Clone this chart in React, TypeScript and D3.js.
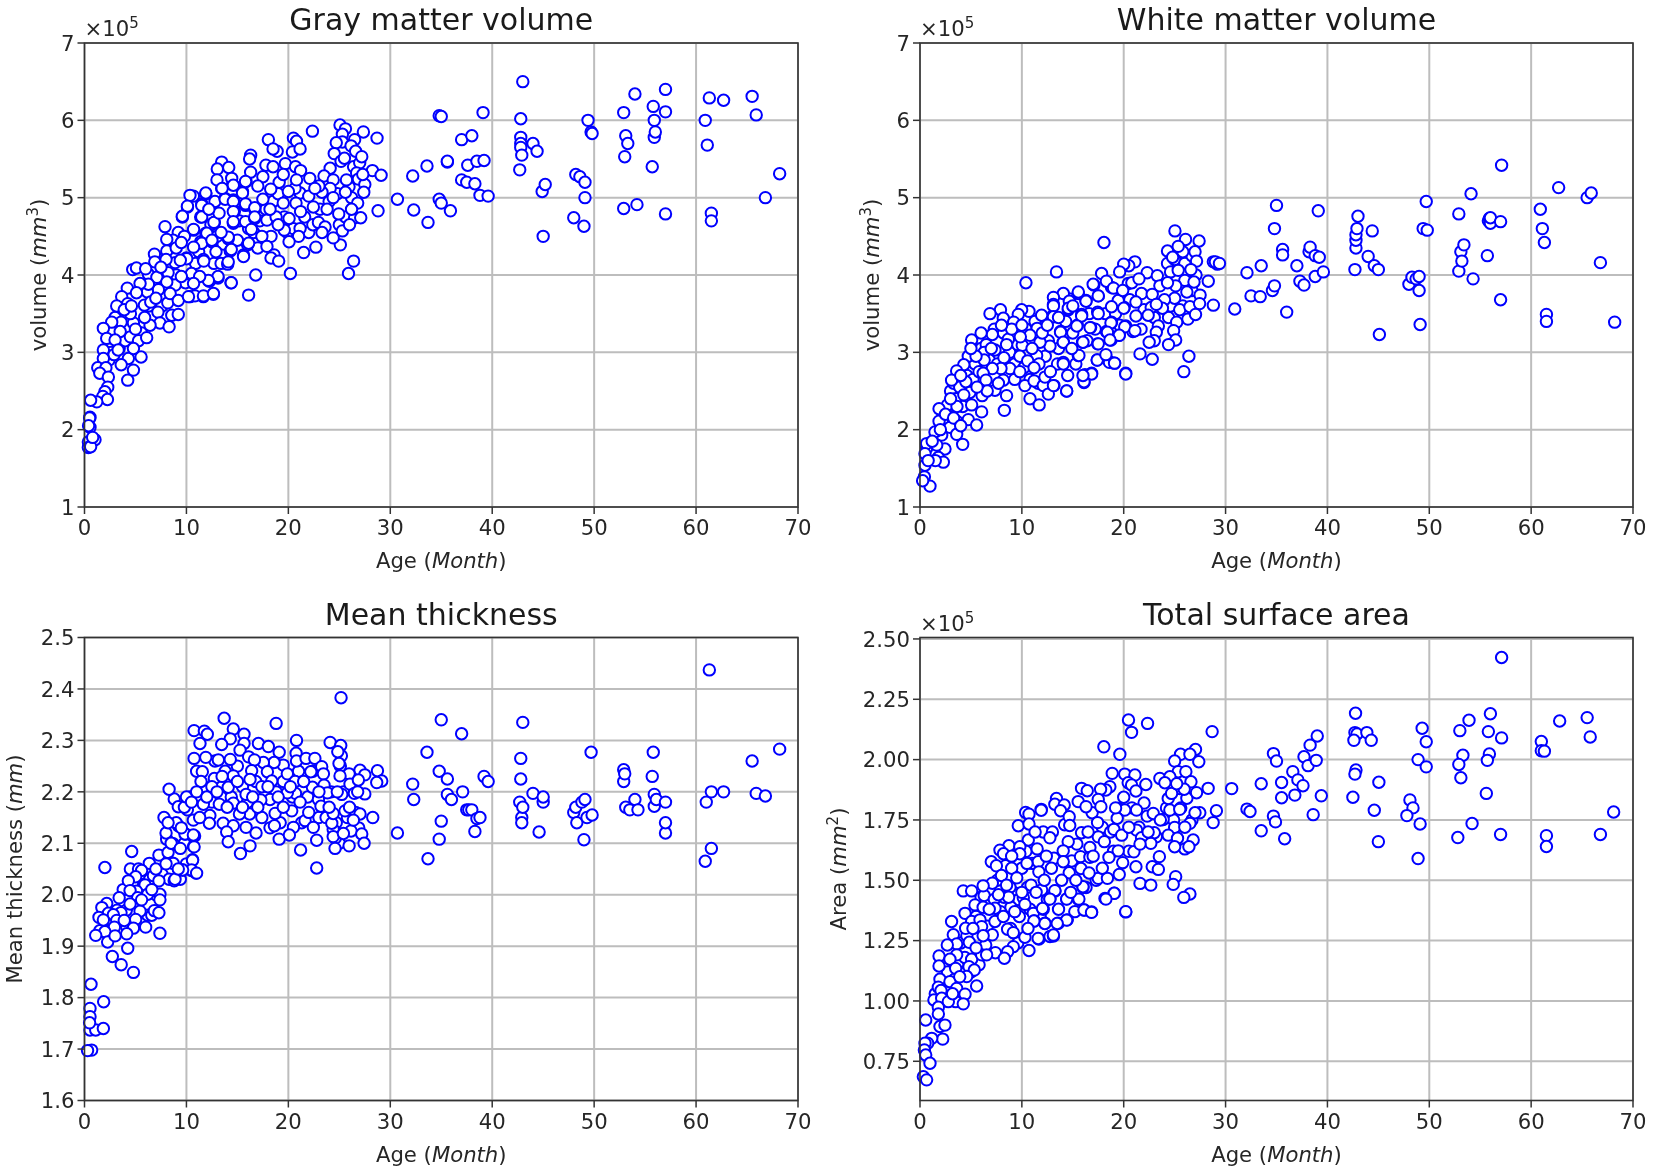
import React from "react";
import * as d3 from "d3";

const ageTicks = [0, 10, 20, 30, 40, 50, 60, 70];
const volumeTicks = [1, 2, 3, 4, 5, 6, 7];
const thicknessTicks = [1.6, 1.7, 1.8, 1.9, 2.0, 2.1, 2.2, 2.3, 2.4, 2.5];
const areaTicks = [0.75, 1.0, 1.25, 1.5, 1.75, 2.0, 2.25, 2.5];

const grayMore: number[][] = [
[3,3.45],[3.4,3.05],[2.6,3],[2.4,2.9],[4,3.15],[4.5,3.2],[5.6,3.25],[6.3,3.6],[6.7,3.85],[7.6,3.6],[7.7,3.95],[8.5,3.95],[9,4],[9.9,3.9],[10.9,4.15],[11.2,4.3],[12.7,4.15],[13.4,4.15],[13.6,4.4],[12.4,4.65],[13,4.5],[15,4.45],[15.2,4.7],[15.3,4.95],[16.1,4.6],[16.6,4.55],[17,4.35],[17.2,4.7],[17.8,4.85],[18.5,4.95],[19,5.05],[19.6,4.75],[19.9,4.55],[20.5,4.6],[21.6,4.75],[22,4.55],[22.4,4.65],[23.1,4.85],[24,4.95],[24.8,5.05],[25,4.65],[25.6,4.75],[26.2,5],[26.4,5.4],
];

const grayPoints: number[][] = [
[25.07,5.94],[25.6,5.89],[22.36,5.86],[27.36,5.85],[28.7,5.77],[18.04,5.75],[20.5,5.77],[20.8,5.73],[25.3,5.82],[25.3,5.72],[24.7,5.71],[26.5,5.75],[26.15,5.67],[26.6,5.6],[18.9,5.6],[18.5,5.63],[20.4,5.59],[21.15,5.63],[24.5,5.57],[16.3,5.55],[16.2,5.5],[13.46,5.46],[14.15,5.39],[13.03,5.37],[17.8,5.42],[19.7,5.44],[20.7,5.4],[21.2,5.35],[25.17,5.47],[25.5,5.51],[27,5.45],[27.2,5.53],[24.1,5.38],[23.5,5.28],[28.25,5.35],[29.1,5.29],[26.7,5.32],[26.87,5.24],[27.5,5.17],[27.4,5.07],[25.95,5.14],[25.7,5.23],[24.4,5.23],[24.1,5.12],[23.3,5.07],[22.1,5.25],[24.4,5],[25.6,5.07],[26.8,4.93],[23.8,4.85],[22.45,4.88],[21.15,5.06],[20.65,5.12],[20.8,5.23],[19.1,5.2],[18.27,5.11],[17.5,5.27],[15.85,5.21],[16.3,5.33],[14.54,5.17],[14.44,5.25],[13.46,5.12],[13,5.23],[15.5,5.08],[14.6,4.97],[15.8,4.9],[17.5,4.98],[16.7,4.85],[19.5,4.93],[20.75,4.93],[21.2,4.82],[20,5.08],[11.9,5.05],[10.68,5.02],[10.35,5.03],[11.5,4.92],[10.1,4.88],[12.8,4.95],[13.8,4.99],[14.7,4.82],[11.4,4.75],[12.74,4.68],[14.6,4.67],[15.8,4.69],[16.7,4.73],[17.9,4.71],[18.8,4.75],[20.07,4.73],[19.6,4.58],[21.15,4.6],[21,4.5],[20.07,4.43],[18.3,4.5],[17.4,4.5],[16.37,4.59],[14.1,4.47],[12.5,4.43],[11.4,4.43],[10.7,4.58],[11.9,4.54],[9.6,4.75],[16,4.39],[17.9,4.37],[15.6,4.26],[14.3,4.31],[11.66,4.2],[10,4.22],[14.05,4.14],[13.1,3.96],[12.25,3.92],[10.5,4],[16.8,4],[14.37,3.9],[20.2,4.02],[21.5,4.29],[22.7,4.36],[18.6,4.26],[18.3,4.22],[19.05,4.18],[26.4,4.18],[25.9,4.02],[25.1,4.39],[24.4,4.48],[25.3,4.57],[22.95,4.68],[23.6,4.62],[23.3,4.55],[24.94,4.79],[26.5,4.74],[27.1,4.74],[28.8,4.83],[16.1,3.74],[12.64,3.75],[11.66,3.72],[10.35,3.72],[10.84,3.73],
[7.9,4.625],[4.73,4.07],[5.1,4.09],[9.2,4.55],[8.7,4.45],[8.07,4.46],[8.07,4.31],[6.86,4.27],[6.9,4.17],[8.9,4.16],[8.2,4.03],[6.27,4.01],[7.1,3.97],[10.5,4.02],[8.9,3.87],[8.07,3.91],[7.25,3.81],[6.17,3.78],[6.27,3.88],[5.45,3.89],[4.2,3.83],[5.1,3.77],[3.65,3.72],[3.16,3.6],[4.24,3.63],[5.88,3.61],[8.17,3.64],[8.4,3.76],[9.2,3.67],[10.2,3.72],[11.67,3.73],[12.65,3.76],[14.4,3.9],[7.2,3.52],[8.56,3.48],[9.2,3.49],[7.4,3.38],[8.3,3.33],[6.43,3.35],[4.8,3.38],[3.59,3.39],[2.67,3.39],[1.85,3.31],[3.5,3.27],[5.3,3.15],[6.1,3.19],[2.18,3.18],[3,3.16],[1.85,3.03],[2.9,2.97],[1.85,2.92],[4.3,2.92],[5.55,2.94],[3.3,3.03],[4.8,3.05],[3.6,2.84],[1.3,2.8],[2.1,2.8],[1.5,2.73],[2.34,2.68],[4.8,2.77],[4.24,2.64],[2.28,2.55],[2,2.49],[1.8,2.43],[2.25,2.39],[1.2,2.36],[0.6,2.38],[0.54,2.16],[0.54,2.03],[1.03,1.87],[0.38,1.84],[0.38,1.77],[0.5,2.15],[0.4,2.05],[0.6,1.78],[0.8,1.9],
[10.1,4.89],[9.6,4.76],[10.7,4.59],[11.5,4.75],[11.5,4.9],[12.7,4.68],[13.8,4.98],[14.6,4.95],[14.6,5.16],[13.5,5.12],[11.9,5.06],[15.8,5.21],[15.5,5.06],[15.8,4.92],[16.7,4.87],[16.7,4.75],[14.6,4.82],[14.6,4.69],[12,4.54],[14.1,4.49],[11.5,4.41],[12.5,4.45],[10.7,4.36],[10.03,4.21],[11.7,4.18],[14.4,4.33],[15.6,4.24],[16.1,4.41],[14.1,4.17],[13.1,3.98],[12.15,3.93],[11.3,3.98],[9.4,4.19],[9.5,3.98],[10.7,3.89],
[9.8,4.5],[9,4.35],[8,4.2],[7.5,4.1],[6.5,3.65],[7,3.7],[5.9,3.45],[4.5,3.5],[5,3.3],[3.9,3.55],[4.6,3.6],[6,4.08],[9.5,4.42],[12.9,4.3],[13.4,4.55],[13.2,4.8],[12.2,4.85],[18.2,4.85],[19,4.65],[22,5.02],[23,5.15],[26,4.65],[26.2,4.85],[27.3,5.3],[22.6,5.12],[19.5,5.3],[17,5.15],[18.5,5.4],
[30.7,4.98],[32.2,5.28],[32.3,4.84],[33.6,5.41],[33.7,4.68],[34.8,6.06],[35,6.05],[34.8,4.98],[35,4.93],[35.6,5.46],[35.6,5.47],[35.9,4.83],[37,5.75],[37,5.23],[37.5,5.2],[37.6,5.42],[38,5.8],[38.3,5.18],[38.5,5.47],[38.8,5.03],[39.2,5.48],[39.1,6.1],[39.6,5.02],[42.7,5.36],[42.8,6.02],[42.8,5.78],[42.8,5.7],[42.8,5.65],[42.9,5.55],[43,6.5],[44,5.7],[44.4,5.6],[44.9,5.08],[45,4.5],[45.2,5.17],[48,4.74],[48.2,5.3],[48.6,5.27],[49.1,5.2],[49,4.63],[49.1,5],[49.4,6],[49.7,5.85],[49.8,5.83],[52.9,4.86],[52.9,6.1],[53,5.53],[53.1,5.8],[53.3,5.7],[54,6.34],[54.2,4.91],[55.7,5.4],[55.8,6.18],[55.9,5.78],[55.9,6],[56,5.85],[57,6.4],[57,6.11],[57,4.79],[60.9,6],[61.1,5.68],[61.3,6.29],[61.5,4.8],[61.5,4.7],[62.7,6.26],[65.5,6.31],[65.9,6.07],[66.8,5],[68.2,5.31],
];

const whiteMore: number[][] = [
[2.2,2.1],[2.6,2.25],[3,2.5],[3.3,2.6],[3.9,2.55],[4.2,2.3],[4.6,2.7],[5.2,2.65],[5.4,2.85],[5.8,2.75],[6,3.05],[6.5,3.1],[6.8,2.9],[7.3,3.3],[7.6,2.85],[8.2,3.25],[8.8,3],[9.3,2.85],[9.6,3.1],[10.2,2.8],[10.4,3.3],[10.8,2.65],[11.3,3.4],[11.6,2.6],[12.3,2.95],[12.6,3.15],[13.5,2.85],[13.6,3.05],[14.3,3.4],[14.5,2.7],[15,3.25],[15.3,2.85],[16.4,3.15],[16.6,3.5],[17.2,3.3],[18.2,3.5],[19.2,3.5],[19.6,3.35],[21.7,3.3],[22,3.55],[23,3.45],[24.4,3.45],[24.6,3.6],[25.8,3.6],[26.7,3.8],[27.1,4],[24.3,4.15],[25,4.2],[26,4.15],[26.7,4.25],[25.8,4.3],
];

const whitePoints: number[][] = [
[10.4,3.9],[17.07,3.87],[18.8,3.84],[20.45,3.89],[15.54,3.76],[17.5,3.73],[14.66,3.69],[14.07,3.76],[13.1,3.71],[13.1,3.62],[16.3,3.67],[19.46,3.65],[20.6,3.68],[20.05,3.58],[14.56,3.55],[15.87,3.49],[17.44,3.52],[18.8,3.39],[20.2,3.34],[20.9,3.27],[18.3,3.27],[16.75,3.32],[15.44,3.35],[13.02,3.47],[11.94,3.48],[10.7,3.53],[9.98,3.55],[9.65,3.49],[7.9,3.55],[6.87,3.5],[8.18,3.44],[9.2,3.39],[11.5,3.31],[13.8,3.27],[14.07,3.13],[15.96,3.13],[17.44,3.11],[19.56,3.22],[18.75,3.16],[10.04,3.09],[10.8,3.22],[9.85,3.2],[8.67,3.17],[7.1,3.23],[5.07,3.16],[6.3,3],[7.36,3.03],[12.76,3.08],[11.78,3.13],[9.8,2.95],[8.24,2.93],[4.74,2.95],[4.3,2.84],[6.3,2.9],[11.45,2.96],[10.57,2.89],[11.68,2.85],[8.83,2.79],[7.95,2.79],[7.1,2.79],[6.2,2.73],[3.6,2.76],[4.5,2.62],[3.1,2.64],[8.18,2.64],[6.48,2.64],[10.3,2.57],[11.2,2.63],[12.1,2.57],[13.15,2.57],[12.27,2.68],[14.07,2.87],[15.54,2.96],[17.4,2.9],[18.6,2.88],[19.1,2.86],[16.85,2.73],[16.2,2.71],[16.1,2.61],[20.2,2.73],[14.4,2.5],[12.6,2.46],[10.8,2.4],[11.7,2.32],[8.5,2.44],[7.36,2.51],[4.9,2.48],[6.1,2.44],[3.5,2.4],[5.07,2.32],[2.7,2.32],[1.87,2.27],[3.63,2.3],[6.05,2.23],[8.28,2.25],[4.74,2.13],[3.6,2.11],[1.87,2.11],[5.56,2.06],[2.94,2.03],[2.13,1.93],[3.6,1.94],[1.47,1.97],[4.19,1.81],[2.45,1.75],[0.65,1.76],[0.65,1.82],[1.8,1.64],[2.29,1.58],[0.49,1.54],[0.43,1.39],[0.98,1.27],[0.26,1.34],[0.49,1.69],[1.64,1.8],
[25.03,4.57],[26.07,4.46],[27.4,4.44],[24.3,4.31],[25.35,4.37],[27,4.3],[24.8,4.23],[27.15,4.18],[24.6,4.04],[25.35,4.06],[26.6,4.07],[18.06,4.42],[13.4,4.04],[21.1,4.17],[20.5,4.12],[20,4.14],[17.83,4.02],[19.6,4.04],[22.3,4.03],[23.3,3.99],[28.8,4.17],[29.2,4.14],[28.3,3.92],[26,3.93],[26.9,3.91],[25.1,3.86],[20.8,3.9],[18.3,3.92],[17,3.88],[19,3.83],[23.55,3.86],[21.75,3.76],[26.2,3.78],[27.5,3.74],[25,3.7],[17.5,3.73],[15.54,3.78],[16.3,3.66],[14.66,3.66],[13.1,3.6],[21.2,3.65],[19.46,3.67],[24,3.68],[22.7,3.58],[23.8,3.57],[25.5,3.55],[26.5,3.59],[27.45,3.63],[28.8,3.61],[20,3.57],[18.8,3.59],[14.56,3.57],[17.5,3.5],[15.87,3.47],[13.1,3.46],[21.2,3.47],[22.4,3.48],[26.3,3.43],[25.2,3.39],[27.05,3.49],[23.4,3.34],[20.1,3.33],[18.75,3.38],[16.7,3.32],[15.4,3.34],[13.8,3.26],[18.4,3.26],[21.1,3.28],[19.56,3.22],[23.2,3.26],[24.9,3.28],[25.1,3.16],[23,3.15],[24.4,3.1],[17.5,3.11],[16,3.13],[14.07,3.13],[18.65,3.16],[22.5,3.13],[21.6,2.98],[22.8,2.91],[26.4,2.95],[25.9,2.75],[20.2,2.72],[17.4,2.9],[15.6,2.96],[14.07,2.85],[18.6,2.87],[19.1,2.86],[18.25,2.97],[16.85,2.72],[16.1,2.62],[16,2.7],[14.4,2.5],[13.1,2.57],
[9,3.3],[8,3.35],[6,3.25],[5.5,2.95],[5,3.05],[4,2.7],[7,3.05],[8.5,3.1],[10,3.35],[11,3.05],[12,3.25],[12.5,3.35],[11.2,2.8],[12.8,2.75],[9.3,2.65],[9.8,2.75],[7.7,2.6],[6.6,2.5],[5.6,2.55],[4.3,2.45],[2.5,2.2],[3,2.4],[2,2],[1.2,1.85],[1.5,1.6],[0.8,1.6],[3.3,2.15],[4,2.05],[14.9,3.05],[15,3.6],[13.6,3.45],[22.8,3.75],[23.2,3.62],[24.3,3.9],[19.9,3.8],[21.5,3.95],
[29,4.17],[29.4,4.15],[30.9,3.56],[32.1,4.03],[32.5,3.73],[33.4,3.72],[33.5,4.12],[34.6,3.8],[34.8,3.86],[34.8,4.6],[35,4.9],[35.6,4.33],[35.6,4.26],[36,3.52],[37,4.12],[37.3,3.92],[37.7,3.87],[38.2,4.3],[38.3,4.36],[38.8,4.25],[38.8,3.98],[39.2,4.23],[39.1,4.83],[39.6,4.04],[42.7,4.07],[42.8,4.35],[42.8,4.45],[42.8,4.52],[42.9,4.6],[43,4.76],[44,4.24],[44.4,4.57],[44.6,4.12],[45,4.07],[45.1,3.23],[48,3.88],[48.3,3.97],[48.7,3.95],[49,3.8],[49.1,3.36],[49,3.98],[49.4,4.6],[49.7,4.95],[49.8,4.58],[52.9,4.05],[52.9,4.79],[53.1,4.3],[53.2,4.18],[53.4,4.39],[54.1,5.05],[54.3,3.95],[55.7,4.25],[55.8,4.7],[55.9,4.73],[56,4.67],[56,4.74],[57,3.68],[57,4.69],[57.1,5.42],[60.9,4.85],[61.1,4.6],[61.3,4.42],[61.5,3.49],[61.5,3.4],[62.7,5.13],[65.5,5],[65.9,5.06],[66.8,4.16],[68.2,3.39],
];

const thicknessMore: number[][] = [
[1.5,1.93],[2.4,1.93],[3.2,1.97],[3.6,1.93],[3.8,2.01],[4.1,1.97],[4.5,2.05],[5.3,2.05],[5.8,2.02],[6.2,1.96],[6.4,2.03],[6.6,1.96],[7,2],[7.6,2.04],[8.3,2.03],[9.4,2.03],[9.8,2.1],[10,2.06],[11,2.24],[11.7,2.21],[12.5,2.18],[12.8,2.26],[13.4,2.19],[13.8,2.24],[14.4,2.19],[15,2.25],[15.5,2.21],[16,2.18],[16.8,2.22],[17.7,2.2],[18.2,2.13],[18.8,2.2],[19.2,2.14],[19.5,2.22],[20.4,2.19],[21,2.24],[21.3,2.14],[21.9,2.19],[22.4,2.24],[23,2.15],[23.7,2.15],[24.2,2.2],[24.7,2.14],[25.4,2.2],[25.8,2.15],[26.6,2.16],[26.9,2.13],[25,2.1],[24.6,2.11],[25.1,2.25],[25.2,2.27],
];

const thicknessPoints: number[][] = [
[4.63,2.084],[2,2.053],[6.36,2.061],[7.3,2.077],[8.2,2.082],[8.7,2.099],[8.06,2.108],[9.9,2.118],[10.8,2.114],[10.7,2.094],[10.6,2.068],[8.55,2.062],[10.5,2.047],[10.94,2.042],[9.64,2.048],[8.8,2.027],[5.6,2.047],[5.02,2.035],[4.3,2.027],[6.76,2.037],[7.3,2.027],[5.94,2.019],[5.1,2.007],[4.47,2.008],[7.4,2.001],[6.2,2.001],[5.22,1.994],[7.4,1.99],[3.4,1.994],[4.47,1.982],[3.58,1.965],[5.45,1.968],[6.85,1.969],[7.3,1.965],[2.18,1.983],[1.7,1.975],[2.34,1.964],[2.83,1.961],[1.42,1.956],[1.85,1.951],[3.16,1.95],[5.02,1.952],[4.14,1.938],[4.8,1.935],[6,1.937],[7.4,1.925],[2.93,1.937],[2,1.928],[1.1,1.921],[4.14,1.924],[2.27,1.908],[4.24,1.896],[2.73,1.88],[3.6,1.864],[4.8,1.849],[0.64,1.826],[1.88,1.792],[0.54,1.779],[0.54,1.763],[0.54,1.737],[1.1,1.737],[1.85,1.74],[0.7,1.698],[0.3,1.697],[0.5,1.751],
[13.7,2.343],[18.8,2.333],[10.75,2.319],[11.76,2.318],[12.05,2.312],[11.33,2.294],[14.6,2.322],[15.65,2.312],[14.3,2.303],[13.46,2.292],[15.65,2.294],[17.06,2.294],[18.04,2.288],[15.26,2.281],[20.8,2.3],[24.1,2.296],[25.14,2.29],[24.85,2.278],[24.97,2.255],[19.1,2.277],[10.75,2.265],[11.9,2.267],[13.13,2.262],[14.3,2.263],[16.1,2.268],[20.76,2.275],[20.8,2.26],[21.74,2.265],[22.6,2.265],[19.5,2.252],[18.6,2.257],[17.55,2.257],[16.67,2.262],[23.27,2.249],[27.03,2.242],[28.74,2.241],[29.16,2.221],[28.67,2.218],[27.5,2.233],[25.96,2.235],[23.44,2.235],[22.2,2.239],[19.9,2.235],[17.94,2.239],[16.4,2.241],[14.6,2.231],[12.74,2.226],[11.56,2.239],[11.43,2.22],[16.24,2.224],[18.37,2.221],[20.66,2.22],[26.05,2.215],[26.87,2.223],[25.07,2.231],[14.1,2.209],[17.4,2.21],[22.36,2.209],[23.5,2.213],[15.85,2.195],[20.7,2.197],[23.83,2.198],[25.24,2.195],[26.48,2.197],[27.5,2.196],[19.9,2.198],[18.2,2.185],[17.3,2.184],[22.95,2.185],[21.15,2.18],[14.6,2.178],[13.23,2.176],[11.66,2.176],[10.35,2.19],[8.8,2.186],[9.2,2.171],[10.09,2.165],[23.2,2.172],[25.56,2.163],[20.33,2.163],[18.7,2.158],[16.2,2.157],[15.2,2.157],[12.3,2.154],[10.68,2.145],[27.03,2.157],[28.28,2.15],[21.64,2.144],[17.4,2.15],[13.6,2.139],[12.25,2.139],[9.2,2.134],[14.6,2.134],[15.85,2.131],[18.63,2.134],[20.5,2.131],[22.45,2.131],[24.4,2.127],[26.15,2.124],[16.83,2.12],[13.95,2.122],[9.86,2.118],[10.68,2.116],[27.2,2.118],[19.1,2.108],[20.1,2.116],[22.78,2.106],[24.4,2.113],[24.58,2.09],[25.96,2.095],[27.43,2.1],[14.1,2.103],[16.24,2.095],[15.3,2.08],[21.2,2.087],[22.78,2.052],[10.75,2.093],[10.6,2.067],[10.5,2.048],[11,2.042],[9.63,2.048],[8.7,2.061],[8.88,2.03],[25.4,2.119],[24.26,2.139],[26.38,2.145],[24.4,2.158],[8.3,2.205],[25.17,2.383],
[7.8,2.15],[8,2.12],[8.5,2.1],[9,2.14],[9.5,2.13],[9.8,2.17],[10,2.19],[10.5,2.18],[11,2.2],[11.3,2.15],[12,2.19],[12.5,2.21],[13,2.2],[13.5,2.23],[14,2.17],[15,2.22],[15.5,2.17],[16.5,2.19],[17,2.17],[18,2.21],[19,2.19],[19.5,2.17],[20.2,2.21],[21.5,2.22],[22,2.16],[23,2.2],[24,2.17],[24.8,2.2],[26,2.17],[26.8,2.2],[7,2.05],[6.6,2.01],[5.6,1.99],[3,1.92],[3.9,1.95],[9.2,2.05],[9.4,2.09],[8.2,2.14],[8,2.06],
[30.7,2.12],[32.2,2.215],[32.3,2.185],[33.6,2.277],[33.7,2.07],[34.8,2.108],[34.8,2.24],[35,2.34],[35,2.143],[35.6,2.225],[35.6,2.195],[36,2.185],[37,2.313],[37.1,2.2],[37.5,2.165],[37.7,2.165],[38,2.165],[38.3,2.123],[38.5,2.148],[38.8,2.15],[39.2,2.23],[39.6,2.22],[42.7,2.18],[42.8,2.265],[42.8,2.225],[42.9,2.15],[42.9,2.14],[43,2.335],[43,2.17],[44,2.197],[44.6,2.122],[45,2.18],[45,2.19],[48,2.16],[48.2,2.17],[48.3,2.14],[48.8,2.18],[49.1,2.185],[49,2.107],[49.3,2.15],[49.7,2.277],[49.8,2.155],[52.9,2.22],[52.9,2.243],[53,2.235],[53.1,2.17],[53.5,2.165],[54,2.185],[54.3,2.165],[55.7,2.23],[55.8,2.277],[55.9,2.195],[55.9,2.172],[56.1,2.185],[57,2.12],[57,2.14],[57,2.18],[60.9,2.065],[61,2.18],[61.3,2.437],[61.5,2.09],[61.5,2.2],[62.7,2.2],[65.5,2.26],[65.9,2.197],[66.8,2.192],[68.2,2.283],
];

const areaMore: number[][] = [
[1.5,1.03],[2.5,1.05],[2.7,1.12],[3.1,1.17],[3.4,1.09],[3.7,1.15],[4,1.24],[4.4,1.18],[4.6,1.27],[5,1.12],[5.5,1.35],[5.8,1.15],[6,1.43],[6.6,1.31],[6.8,1.46],[7.4,1.2],[7.6,1.5],[7.9,1.37],[8.4,1.56],[8.9,1.3],[9.2,1.45],[9.6,1.24],[9.7,1.42],[10,1.55],[10.4,1.62],[10.8,1.38],[11,1.57],[11.8,1.35],[12.1,1.7],[12.5,1.42],[13,1.7],[13.6,1.38],[14.2,1.73],[14.9,1.58],[15.2,1.37],[15.4,1.65],[16.3,1.47],[16.9,1.78],[17.3,1.5],[17.9,1.72],[18.7,1.7],[19,1.62],[20.5,1.62],[20.8,1.8],[21.5,1.72],[22,1.82],[23.2,1.68],[24.2,1.8],[24.9,1.75],[25.6,1.8],[26,1.63],[26.2,1.84],[26.7,1.75],[25.5,1.88],
];

const areaPoints: number[][] = [
[4.25,1.456],[5.07,1.456],[6.3,1.437],[7.1,1.488],[6.2,1.477],[7.3,1.421],[8.24,1.43],[10.14,1.428],[8.83,1.471],[10.57,1.471],[11.94,1.46],[12.76,1.425],[13.25,1.456],[14.4,1.423],[15.54,1.421],[16,1.471],[18.16,1.425],[19.07,1.446],[16.13,1.377],[16.85,1.369],[20.2,1.369],[5.4,1.398],[6.2,1.388],[7.36,1.384],[8.93,1.388],[4.42,1.363],[3.1,1.329],[5.07,1.329],[5.89,1.336],[7.36,1.329],[8.18,1.35],[9.75,1.35],[11.12,1.363],[12.1,1.38],[11.22,1.331],[12.27,1.322],[13.58,1.322],[14.46,1.336],[4.48,1.301],[6.05,1.308],[8.6,1.297],[3.27,1.274],[7.1,1.274],[9.16,1.283],[10.3,1.264],[11.68,1.257],[12.76,1.267],[13.1,1.269],[4.84,1.243],[3.6,1.236],[2.68,1.232],[6.45,1.232],[9.16,1.225],[10.7,1.209],[8.6,1.204],[8.28,1.177],[3.6,1.191],[1.87,1.186],[2.94,1.173],[5.07,1.173],[6.05,1.191],[6.54,1.191],[1.87,1.145],[3.5,1.135],[4.81,1.142],[5.33,1.128],[4.58,1.101],[1.96,1.09],[2.94,1.08],[5.56,1.062],[1.8,1.057],[2.06,1.043],[3.6,1.052],[4.42,1.028],[1.37,1.004],[2.13,1.011],[3.5,0.997],[4.25,0.988],[2.78,0.997],[1.8,0.974],[1.8,0.946],[0.56,0.921],[1.96,0.894],[2.45,0.9],[2.23,0.842],[1.15,0.845],[0.75,0.825],[0.49,0.825],[0.43,0.797],[0.56,0.776],[0.98,0.742],[0.33,0.686],[0.65,0.673],
[28.68,2.116],[20.47,2.164],[20.77,2.113],[22.34,2.15],[18.05,2.053],[19.62,2.022],[27.05,2.042],[25.58,2.022],[26.5,2.022],[27.37,1.991],[25,1.994],[18.87,1.943],[20.1,1.94],[21.1,1.936],[25.35,1.95],[26.1,1.95],[23.55,1.922],[24.53,1.929],[20.44,1.904],[24.04,1.904],[26.6,1.908],[22.17,1.897],[15.86,1.881],[16.42,1.871],[18.64,1.888],[18.25,1.874],[17.73,1.877],[20.77,1.895],[21.2,1.87],[25.94,1.877],[28.29,1.881],[27.15,1.863],[24.37,1.839],[20,1.844],[13.4,1.839],[15.53,1.826],[17.5,1.835],[16.3,1.805],[17.76,1.805],[13.24,1.815],[14.16,1.812],[11.9,1.794],[19.46,1.798],[20.1,1.791],[21.26,1.791],[13.8,1.788],[24.53,1.791],[25.5,1.794],[27.47,1.78],[29.1,1.788],[22.3,1.766],[22.9,1.777],[14.65,1.763],[19.36,1.757],[23.87,1.752],[28.78,1.739],[26.5,1.736],[17.43,1.739],[14.7,1.727],[25,1.719],[19.03,1.711],[21.26,1.708],[23,1.697],[15.86,1.697],[17.5,1.68],[19.8,1.687],[21.75,1.676],[24.37,1.687],[25.28,1.674],[26.82,1.667],[12.75,1.676],[14.55,1.66],[22.66,1.653],[16.68,1.636],[21,1.618],[19.46,1.622],[14.06,1.622],[25,1.639],[26.4,1.639],[23.5,1.598],[13.15,1.591],[15.76,1.598],[16.68,1.595],[18.55,1.595],[22.8,1.556],[23.4,1.545],[14.06,1.577],[11.6,1.577],[15.8,1.549],[21.2,1.556],[19.9,1.573],[19.56,1.524],[17.5,1.508],[18.4,1.508],[14.65,1.531],[11.67,1.535],[21.6,1.487],[22.66,1.48],[25.1,1.515],[24.86,1.483],[16,1.473],[13.24,1.457],[19.07,1.446],[18.25,1.422],[26.5,1.443],[25.9,1.429],[14.4,1.422],[15.6,1.422],[12.75,1.422],[16.1,1.377],[16.84,1.367],[20.2,1.37],[12.03,1.383],[14.4,1.335],[13.47,1.321],[12.26,1.321],[11.18,1.331],[13.1,1.273],[11.6,1.259],
[10.37,1.781],[10.7,1.774],[11.9,1.79],[9.65,1.726],[10.7,1.733],[8.73,1.643],[7.85,1.625],[10.63,1.667],[9.8,1.639],[8.2,1.61],[7,1.577],[7.5,1.56],[8,1.52],[8.5,1.48],[9,1.55],[9.5,1.51],[10,1.45],[10.5,1.57],[10.3,1.4],[10.6,1.3],[10.9,1.48],[9.3,1.37],[8.7,1.43],[7.7,1.44],[9.8,1.61],[9,1.6],[11.3,1.7],[11.5,1.63],[12.4,1.6],[12.2,1.5],[11.4,1.45],[12.9,1.55],[13.9,1.5],[14.8,1.45],[15.3,1.5],[16.6,1.53],[17,1.6],[17.9,1.55],[18.1,1.66],[16.5,1.7],[19.2,1.8],[20.5,1.72],[21.6,1.65],[22.4,1.7],[23.6,1.75],[24.7,1.86],[25.2,1.9],[26,1.72],[27,1.78],[6.8,1.38],[6.2,1.27],[5.5,1.22],[5.2,1.3],[3.9,1.1],[3.2,1.03],
[30.6,1.88],[32.1,1.795],[32.4,1.785],[33.5,1.9],[33.5,1.705],[34.7,2.025],[35,1.994],[34.7,1.766],[34.9,1.742],[35.5,1.905],[35.5,1.842],[35.8,1.672],[36.6,1.95],[36.8,1.853],[37.1,1.916],[37.6,1.892],[37.7,2.012],[38.1,1.975],[38.3,2.06],[38.6,1.772],[38.9,1.997],[39,2.098],[39.4,1.85],[42.76,2.192],[42.7,2.112],[42.9,2.106],[43.87,2.112],[42.6,2.08],[44.3,2.08],[49.3,2.13],[49.7,2.074],[48.9,2],[49.7,1.97],[42.8,1.957],[42.7,1.94],[45.05,1.906],[42.5,1.844],[44.6,1.79],[48.1,1.833],[48.4,1.8],[47.8,1.768],[49.1,1.733],[45,1.66],[48.9,1.59],[53,2.12],[53.9,2.163],[56,2.19],[55.8,2.116],[57.1,2.09],[57.1,2.423],[53.3,2.018],[52.9,1.98],[53.1,1.925],[55.9,2.023],[55.7,1.997],[55.6,1.86],[54.2,1.735],[52.8,1.677],[57,1.69],[61,2.075],[61,2.037],[61.3,2.035],[62.8,2.16],[65.5,2.174],[65.8,2.094],[68.1,1.783],[66.8,1.69],[61.5,1.685],[61.5,1.64],
];

const FONT = "'DejaVu Sans', sans-serif";
const INK = "#262626";
const BLUE = "#0000ff";
const LABEL = 21.2;
const SUP = 15;

function Panel({ left, top, right, bottom, title, points, yDomain, yTicks, yFormat, offset, yLabel, yLabelX }: any) {
  const x = d3.scaleLinear().domain([0, 70]).range([left, right]);
  const y = d3.scaleLinear().domain(yDomain).range([bottom, top]);
  return (
    <g fontFamily={FONT} fill={INK}>
      {ageTicks.map((t) => (
        <line key={"gx" + t} x1={x(t)} x2={x(t)} y1={top} y2={bottom} stroke="#bdbdbd" strokeWidth={2} />
      ))}
      {yTicks.map((t: number) => (
        <line key={"gy" + t} x1={left} x2={right} y1={y(t)} y2={y(t)} stroke="#bdbdbd" strokeWidth={2} />
      ))}
      {points.map((p: number[], i: number) => (
        <circle key={i} cx={x(p[0])} cy={y(p[1])} r={5.7} fill="#fff" stroke={BLUE} strokeWidth={2} />
      ))}
      <rect x={left} y={top} width={right - left} height={bottom - top} fill="none" stroke="#333" strokeWidth={1.6} />
      {ageTicks.map((t) => (
        <g key={"tx" + t}>
          <line x1={x(t)} x2={x(t)} y1={bottom} y2={bottom + 7} stroke="#333" strokeWidth={1.5} />
          <text x={x(t)} y={bottom + 28} textAnchor="middle" fontSize={LABEL}>{t}</text>
        </g>
      ))}
      {yTicks.map((t: number) => (
        <g key={"ty" + t}>
          <line x1={left - 7} x2={left} y1={y(t)} y2={y(t)} stroke="#333" strokeWidth={1.5} />
          <text x={left - 10} y={y(t) + 7.7} textAnchor="end" fontSize={LABEL}>{yFormat(t)}</text>
        </g>
      ))}
      <text x={(left + right) / 2} y={top - 13} textAnchor="middle" fontSize={30} fill="#1a1a1a">{title}</text>
      <text x={(left + right) / 2} y={bottom + 61} textAnchor="middle" fontSize={LABEL}>
        Age (<tspan fontStyle="italic">Month</tspan>)
      </text>
      <text transform={`translate(${yLabelX},${(top + bottom) / 2}) rotate(-90)`} textAnchor="middle" fontSize={LABEL}>
        {yLabel}
      </text>
      {offset && (
        <text x={left} y={top - 7} fontSize={LABEL}>
          ×10<tspan fontSize={SUP} dy={-8}>5</tspan>
        </text>
      )}
    </g>
  );
}

const sup = (s: string) => <tspan fontSize={SUP} dy={-8}>{s}</tspan>;

export default function App() {
  const fmt1 = d3.format(".0f");
  const fmt2 = d3.format(".1f");
  const fmt3 = d3.format(".2f");
  return (
    <svg width={1653} height={1172} viewBox="0 0 1653 1172" style={{ position: "fixed", left: 0, top: 0, display: "block", background: "#fff", filter: "blur(0.6px)" }}>
      <Panel left={84.5} right={798} top={43} bottom={507} title="Gray matter volume" points={[...grayMore, ...grayPoints]} yDomain={[1, 7]} yTicks={volumeTicks} yFormat={fmt1} offset yLabelX={46}
        yLabel={<>volume (<tspan fontStyle="italic">mm</tspan>{sup("3")}<tspan dy={8}>)</tspan></>} />
      <Panel left={920} right={1633} top={43} bottom={507} title="White matter volume" points={[...whiteMore, ...whitePoints]} yDomain={[1, 7]} yTicks={volumeTicks} yFormat={fmt1} offset yLabelX={879}
        yLabel={<>volume (<tspan fontStyle="italic">mm</tspan>{sup("3")}<tspan dy={8}>)</tspan></>} />
      <Panel left={84.5} right={798} top={637.5} bottom={1100.5} title="Mean thickness" points={[...thicknessMore, ...thicknessPoints]} yDomain={[1.6, 2.5]} yTicks={thicknessTicks} yFormat={fmt2} yLabelX={22}
        yLabel={<>Mean thickness (<tspan fontStyle="italic">mm</tspan>)</>} />
      <Panel left={920} right={1633} top={637.5} bottom={1100.5} title="Total surface area" points={[...areaMore, ...areaPoints]} yDomain={[0.5875, 2.506]} yTicks={areaTicks} yFormat={fmt3} offset yLabelX={846}
        yLabel={<>Area (<tspan fontStyle="italic">mm</tspan>{sup("2")}<tspan dy={8}>)</tspan></>} />
    </svg>
  );
}
